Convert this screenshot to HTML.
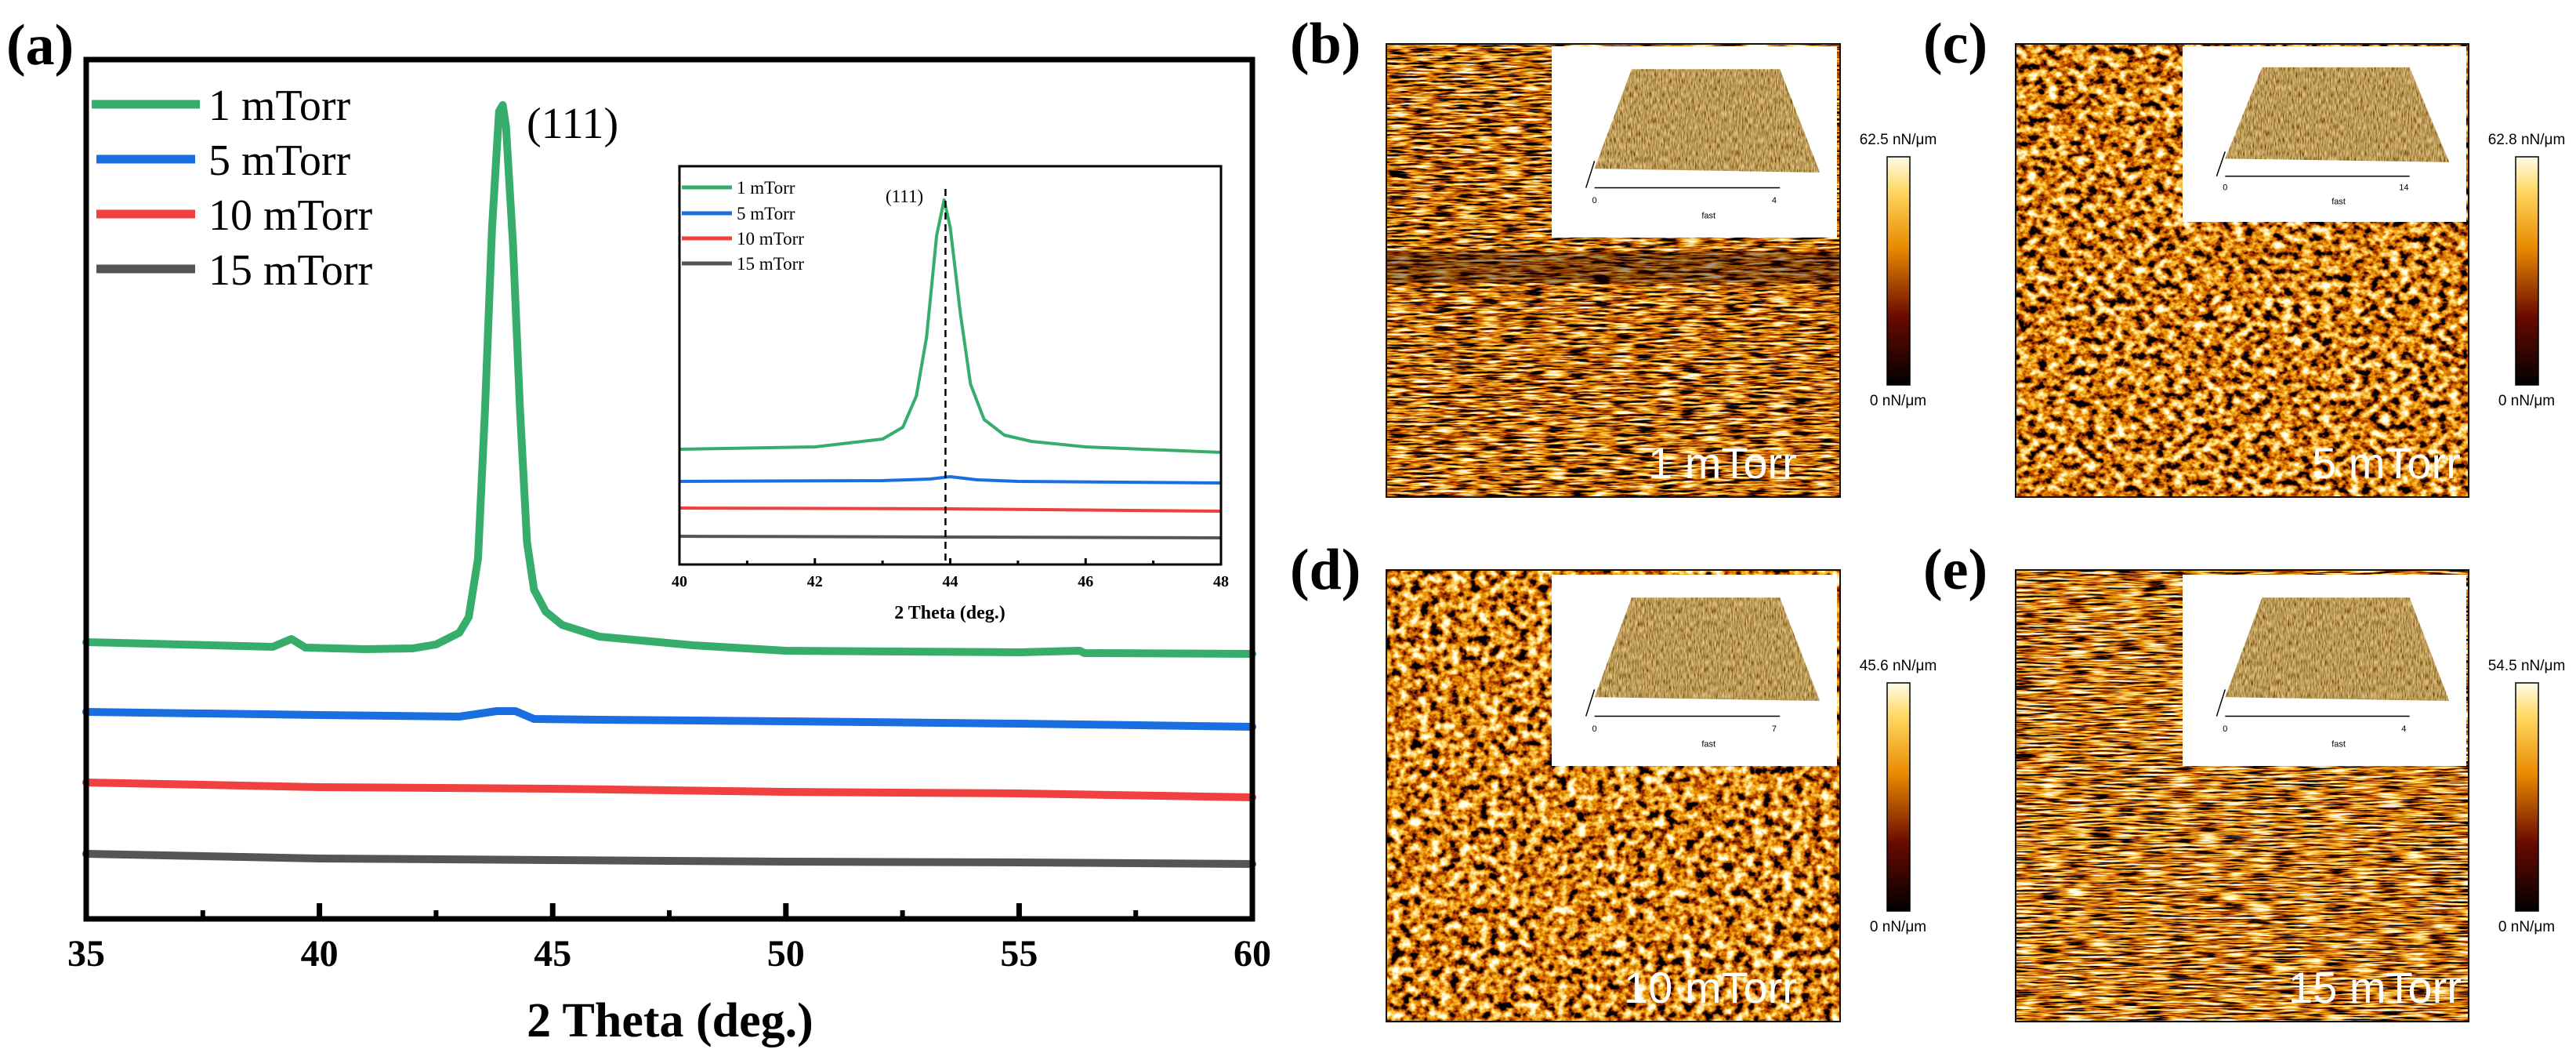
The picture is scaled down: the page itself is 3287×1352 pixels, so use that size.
<!DOCTYPE html>
<html><head><meta charset="utf-8"><title>XRD and AFM figure</title>
<style>
html,body{margin:0;padding:0;background:#fff;}
svg{display:block;}
text{font-family:"Liberation Serif",serif;}
.sans{font-family:"Liberation Sans","DejaVu Sans",sans-serif;}
</style></head>
<body>
<svg id="fig" width="3287" height="1352" viewBox="0 0 3287 1352" xmlns="http://www.w3.org/2000/svg">
<defs>
  <linearGradient id="cbar" x1="0" y1="1" x2="0" y2="0">
    <stop offset="0" stop-color="#000"/>
    <stop offset="0.3" stop-color="#6a0a00"/>
    <stop offset="0.6" stop-color="#e88a00"/>
    <stop offset="0.85" stop-color="#ffd860"/>
    <stop offset="1" stop-color="#fffbe8"/>
  </linearGradient>
  <filter id="fStreak" x="0" y="0" width="1" height="1" filterUnits="objectBoundingBox">
    <feTurbulence type="fractalNoise" baseFrequency="0.035 0.35" numOctaves="3" seed="4"/>
    <feColorMatrix type="matrix" values="2.6 0 0 0 -0.95  2.6 0 0 0 -0.95  2.6 0 0 0 -0.95  0 0 0 0 1"/>
    <feComponentTransfer>
      <feFuncR type="table" tableValues="0 0.5 0.85 1 1"/>
      <feFuncG type="table" tableValues="0 0.06 0.33 0.68 1"/>
      <feFuncB type="table" tableValues="0 0 0 0.12 0.85"/>
    </feComponentTransfer>
  </filter>
  <filter id="fStreak2" x="0" y="0" width="1" height="1" filterUnits="objectBoundingBox">
    <feTurbulence type="fractalNoise" baseFrequency="0.03 0.4" numOctaves="3" seed="11"/>
    <feColorMatrix type="matrix" values="2.6 0 0 0 -0.9  2.6 0 0 0 -0.9  2.6 0 0 0 -0.9  0 0 0 0 1"/>
    <feComponentTransfer>
      <feFuncR type="table" tableValues="0 0.5 0.85 1 1"/>
      <feFuncG type="table" tableValues="0 0.06 0.33 0.68 1"/>
      <feFuncB type="table" tableValues="0 0 0 0.12 0.85"/>
    </feComponentTransfer>
  </filter>
  <filter id="fBlob" x="0" y="0" width="1" height="1" filterUnits="objectBoundingBox">
    <feTurbulence type="fractalNoise" baseFrequency="0.08 0.1" numOctaves="3" seed="7"/>
    <feColorMatrix type="matrix" values="2.4 0 0 0 -0.8  2.4 0 0 0 -0.8  2.4 0 0 0 -0.8  0 0 0 0 1"/>
    <feComponentTransfer>
      <feFuncR type="table" tableValues="0 0.5 0.85 1 1"/>
      <feFuncG type="table" tableValues="0 0.06 0.33 0.68 1"/>
      <feFuncB type="table" tableValues="0 0 0 0.12 0.85"/>
    </feComponentTransfer>
  </filter>
  <filter id="fBlob2" x="0" y="0" width="1" height="1" filterUnits="objectBoundingBox">
    <feTurbulence type="fractalNoise" baseFrequency="0.08 0.09" numOctaves="3" seed="19"/>
    <feColorMatrix type="matrix" values="2.4 0 0 0 -0.78  2.4 0 0 0 -0.78  2.4 0 0 0 -0.78  0 0 0 0 1"/>
    <feComponentTransfer>
      <feFuncR type="table" tableValues="0 0.5 0.85 1 1"/>
      <feFuncG type="table" tableValues="0 0.06 0.33 0.68 1"/>
      <feFuncB type="table" tableValues="0 0 0 0.12 0.85"/>
    </feComponentTransfer>
  </filter>
  <filter id="fSurf" x="0" y="0" width="1" height="1" filterUnits="objectBoundingBox">
    <feTurbulence type="fractalNoise" baseFrequency="0.6 0.12" numOctaves="2" seed="5"/>
    <feColorMatrix type="matrix" values="1.1 0 0 0 -0.05  0.85 0 0 0 -0.1  0.4 0 0 0 -0.1  0 0 0 0 1"/>
    <feComposite in2="SourceGraphic" operator="in"/>
  </filter>
</defs>

<g id="xrd"></g>
<g id="afm"></g>
</svg>

<script>
// ---- Main XRD chart data ----
const xTickLabels = ["35","40","45","50","55","60"];
const xTickValues = [35,40,45,50,55,60];
const seriesNames = ["1 mTorr","5 mTorr","10 mTorr","15 mTorr"];
const seriesColors = ["#36ad6a","#1a6fe0","#f04040","#555555"];
const x1mTorr = [35,37,39,39.4,39.7,41,42,42.5,43,43.2,43.4,43.55,43.7,43.85,43.93,44.0,44.15,44.3,44.45,44.6,44.85,45.2,46,48,50,55,56.3,56.4,60];
const y1mTorr = [353,350,347,357,346,344,345,350,365,385,460,650,880,1030,1038,1010,860,650,480,420,392,375,360,349,342,340,342,339,338];
const x5mTorr = [35,40,43,43.8,44.2,44.6,46,50,55,60];
const y5mTorr = [264,260,258,265,265,255,254,252,249,245];
const x10mTorr = [35,40,45,50,55,60];
const y10mTorr = [174,168,166,162,160,155];
const x15mTorr = [35,40,45,50,55,60];
const y15mTorr = [83,77,75,73,72,70];

// ---- Inset data ----
const insetTickLabels = ["40","42","44","46","48"];
const insetTickValues = [40,42,44,46,48];
const ix1 = [40,42,43,43.3,43.5,43.65,43.8,43.91,44.0,44.15,44.3,44.5,44.8,45.2,46,48];
const iy1 = [147,150,160,175,215,290,420,465,430,320,230,185,165,157,150,143];
const ix5 = [40,43,43.7,44.0,44.4,45,48];
const iy5 = [106,107,109,112,108,106,104];
const ix10 = [40,44,48];
const iy10 = [72,71,68];
const ix15 = [40,44,48];
const iy15 = [36,35,34];

// ---- AFM labels ----
const cbarMax = ["62.5 nN/μm","62.8 nN/μm","45.6 nN/μm","54.5 nN/μm"];
const afmLabels = ["1 mTorr","5 mTorr","10 mTorr","15 mTorr"];
const afmPanelLetters = ["(b)","(c)","(d)","(e)"];
const afmInsetMax = ["4","14","7","4"];

const NS = "http://www.w3.org/2000/svg";
function mk(tag, attrs, parent){
  const e = document.createElementNS(NS, tag);
  for (const k in attrs) e.setAttribute(k, attrs[k]);
  parent.appendChild(e);
  return e;
}

const xrd = document.getElementById('xrd');
const MX0=110, MX1=1598, MY0=1172, MY1=76;
const mxMin=35, mxMax=60, myMin=0, myMax=1096;
function xS(v){ return MX0 + (v-mxMin)/(mxMax-mxMin)*(MX1-MX0); }
function yS(v){ return MY0 - (v-myMin)/(myMax-myMin)*(MY0-MY1); }

const IX0=867, IX1=1558, IY0=720, IY1=212;
function ixS(v){ return IX0 + (v-40)/8*(IX1-IX0); }
function iyS(v){ return IY0 - v/508*(IY0-IY1); }

let t = mk('text',{x:8,y:82,'font-size':74,'font-weight':'bold'},xrd);
t.textContent='(a)';



const mainX=[x1mTorr,x5mTorr,x10mTorr,x15mTorr];
const mainY=[y1mTorr,y5mTorr,y10mTorr,y15mTorr];
for(let s=0;s<4;s++){
  const pts = mainX[s].map((x,i)=>xS(x).toFixed(1)+','+yS(mainY[s][i]).toFixed(1)).join(' ');
  const pl = mk('polyline',{points:pts,fill:'none',stroke:seriesColors[s],'stroke-width':10,'stroke-linejoin':'round','stroke-linecap':'round'},xrd);
  
  
}

let fr = mk('rect',{x:MX0,y:MY1,width:MX1-MX0,height:MY0-MY1,fill:'none',stroke:'#000','stroke-width':7},xrd);



for(let i=0;i<xTickValues.length;i++){
  const x=xS(xTickValues[i]);
  const tk = mk('line',{x1:x,y1:MY0,x2:x,y2:MY0-20,stroke:'#000','stroke-width':7},xrd);
  
  
  const lb = mk('text',{x:x,y:1232,'font-size':48,'font-weight':'bold','text-anchor':'middle'},xrd);
  lb.textContent=xTickLabels[i];
  
  
  if(i<xTickValues.length-1){
    const xm=xS(xTickValues[i]+2.5);
    const mt = mk('line',{x1:xm,y1:MY0,x2:xm,y2:MY0-11,stroke:'#000','stroke-width':6},xrd);
    
    
  }
}
t = mk('text',{x:855,y:1322,'font-size':62,'font-weight':'bold','text-anchor':'middle'},xrd);
t.textContent='2 Theta (deg.)';



t = mk('text',{x:672,y:176,'font-size':56},xrd);
t.textContent='(111)';



const legY=[133,203,273,343];
for(let s=0;s<4;s++){
  const ln = mk('line',{x1:s==0?117:123,y1:legY[s],x2:s==0?255:249,y2:legY[s],stroke:seriesColors[s],'stroke-width':11},xrd);
  
  
  const lt = mk('text',{x:266,y:legY[s]+20,'font-size':56},xrd);
  lt.textContent=seriesNames[s];
  
  
}

const inset = mk('g',{},xrd);


const insX=[ix1,ix5,ix10,ix15], insY=[iy1,iy5,iy10,iy15];
for(let s=0;s<4;s++){
  const pts = insX[s].map((x,i)=>ixS(x).toFixed(1)+','+iyS(insY[s][i]).toFixed(1)).join(' ');
  const pl = mk('polyline',{points:pts,fill:'none',stroke:seriesColors[s],'stroke-width':4,'stroke-linejoin':'round'},inset);
  
  
}
let dl = mk('line',{x1:ixS(43.93),y1:241,x2:ixS(43.93),y2:IY0,stroke:'#000','stroke-width':2.5,'stroke-dasharray':'9,6'},inset);


fr = mk('rect',{x:IX0,y:IY1,width:IX1-IX0,height:IY0-IY1,fill:'none',stroke:'#000','stroke-width':3},inset);


for(let i=0;i<insetTickValues.length;i++){
  const x=ixS(insetTickValues[i]);
  const tk = mk('line',{x1:x,y1:IY0,x2:x,y2:IY0-8,stroke:'#000','stroke-width':3},inset);
  
  
  const lb = mk('text',{x:x,y:748,'font-size':20,'font-weight':'bold','text-anchor':'middle'},inset);
  lb.textContent=insetTickLabels[i];
  
  
  if(i<insetTickValues.length-1){
    const xm=ixS(insetTickValues[i]+1);
    const mt = mk('line',{x1:xm,y1:IY0,x2:xm,y2:IY0-5,stroke:'#000','stroke-width':3},inset);
    
    
  }
}
t = mk('text',{x:1212,y:789,'font-size':24,'font-weight':'bold','text-anchor':'middle'},inset);
t.textContent='2 Theta (deg.)';


t = mk('text',{x:1130,y:258,'font-size':23},inset);
t.textContent='(111)';


const iLegY=[239,272,304,336];
for(let s=0;s<4;s++){
  const ln = mk('line',{x1:870,y1:iLegY[s],x2:934,y2:iLegY[s],stroke:seriesColors[s],'stroke-width':5},inset);
  
  
  const lt = mk('text',{x:940,y:iLegY[s]+8,'font-size':23},inset);
  lt.textContent=seriesNames[s];
  
  
}

// ---- AFM panels ----
const afm = document.getElementById('afm');
const panels = [
  {x:1769,y:56,w:579,h:578,f:'fStreak',ix:1980,iy:59,iw:364,ih:244,cb:2408,lx:1646,tx:2103,band:true},
  {x:2572,y:56,w:578,h:578,f:'fBlob',ix:2785,iy:59,iw:362,ih:224,cb:3210,lx:2454,tx:2950,band:false},
  {x:1769,y:727,w:579,h:576,f:'fBlob2',ix:1980,iy:733,iw:364,ih:244,cb:2408,lx:1646,tx:2072,band:false},
  {x:2572,y:727,w:578,h:576,f:'fStreak2',ix:2785,iy:733,iw:362,ih:244,cb:3210,lx:2454,tx:2920,band:false}
];
const names=['b','c','d','e'];
for(let p=0;p<4;p++){
  const P=panels[p];
  const g = mk('g',{},afm);
  
  
  const lab = mk('text',{x:P.lx,y:P.y+24,'font-size':74,'font-weight':'bold'},g);
  lab.textContent=afmPanelLetters[p];
  
  
  const img = mk('rect',{x:P.x,y:P.y,width:P.w,height:P.h,fill:'#b05010',filter:'url(#'+P.f+')'},g);
  
  
  if(P.band){
    const b = mk('rect',{x:P.x,y:P.y+265,width:P.w,height:40,fill:'#200000',opacity:0.4},g);
    
    
  }
  const bd = mk('rect',{x:P.x,y:P.y,width:P.w,height:P.h,fill:'none',stroke:'#111','stroke-width':2},g);
  
  
  const ins = mk('g',{},g);
  
  
  const bg = mk('rect',{x:P.ix,y:P.iy,width:P.iw,height:P.ih,fill:'#fff'},ins);
  
  
  const X=(r)=>P.ix+r*P.iw, Y=(r)=>P.iy+r*P.ih;
  const poly = mk('polygon',{points:[X(0.28)+','+Y(0.12),X(0.80)+','+Y(0.12),X(0.94)+','+Y(0.66),X(0.15)+','+Y(0.64)].join(' '),fill:'#8a6a30',filter:'url(#fSurf)'},ins);
  
  
  const ax = mk('line',{x1:X(0.15),y1:Y(0.74),x2:X(0.80),y2:Y(0.74),stroke:'#000','stroke-width':1.5},ins);
  
  
  const zax = mk('line',{x1:X(0.12),y1:Y(0.74),x2:X(0.15),y2:Y(0.6),stroke:'#000','stroke-width':1.5},ins);
  
  
  const l0 = mk('text',{x:X(0.15),y:Y(0.82),'font-size':11,'text-anchor':'middle',class:'sans'},ins);
  l0.textContent='0';
  
  
  const l1 = mk('text',{x:X(0.78),y:Y(0.82),'font-size':11,'text-anchor':'middle',class:'sans'},ins);
  l1.textContent=afmInsetMax[p];
  
  
  const lf = mk('text',{x:X(0.55),y:Y(0.90),'font-size':11,'text-anchor':'middle',class:'sans'},ins);
  lf.textContent='fast';
  
  
  const pl = mk('text',{x:P.tx,y:P.y+P.h-24,'font-size':56,fill:'#fff',class:'sans'},g);
  pl.textContent=afmLabels[p];
  
  
  const cy0 = P.y+144, cy1 = P.y+435;
  const cb = mk('rect',{x:P.cb,y:cy0,width:29,height:cy1-cy0,fill:'url(#cbar)',stroke:'#000','stroke-width':1.5},g);
  
  
  const ct = mk('text',{x:P.cb+14,y:P.y+128,'font-size':19,'text-anchor':'middle',class:'sans'},g);
  ct.textContent=cbarMax[p];
  
  
  const cbm = mk('text',{x:P.cb+14,y:P.y+461,'font-size':19,'text-anchor':'middle',class:'sans'},g);
  cbm.textContent='0 nN/μm';
  
  
}
</script>
</body></html>
